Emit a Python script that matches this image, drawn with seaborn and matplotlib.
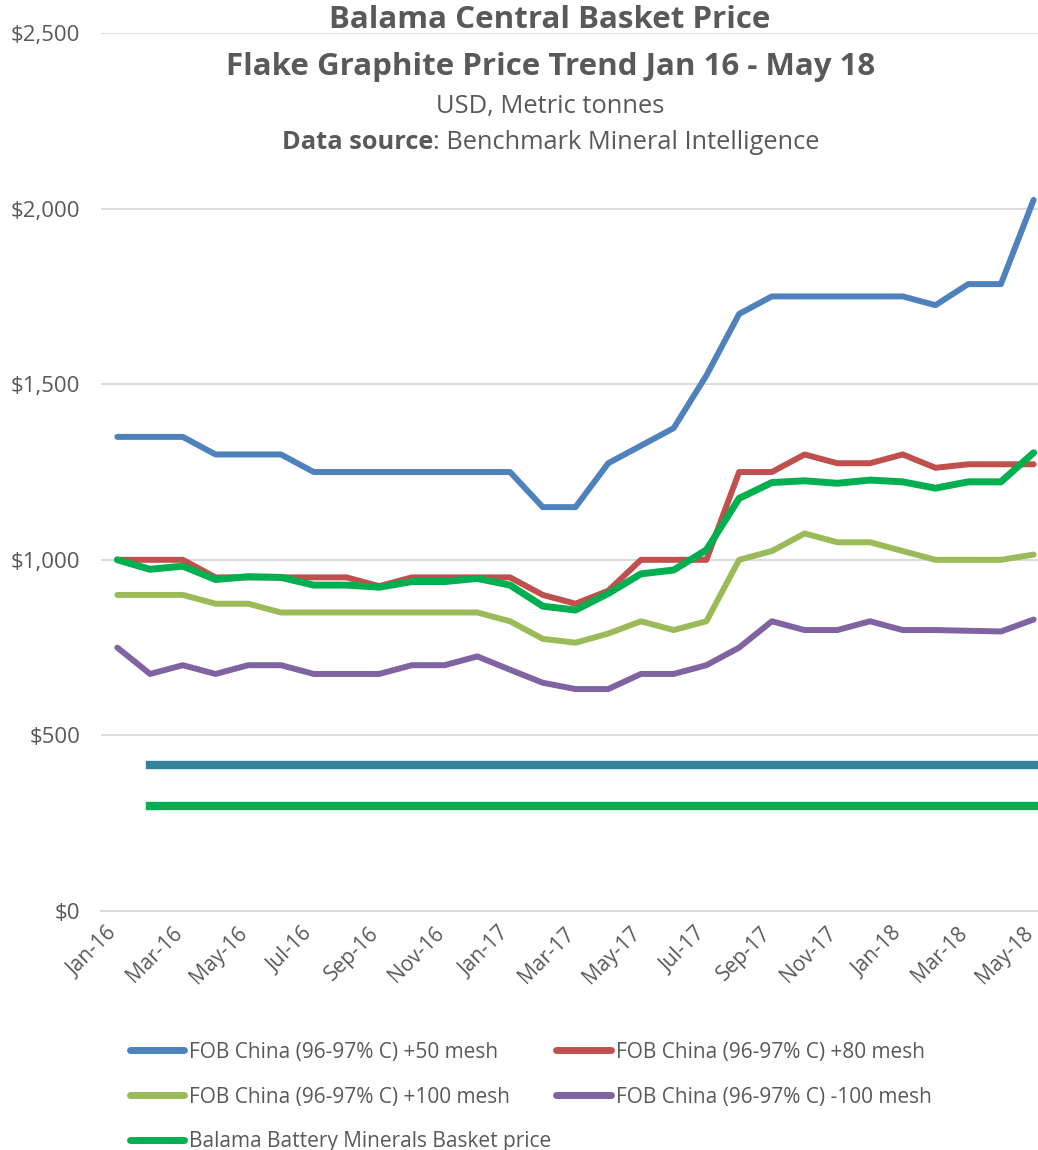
import matplotlib
matplotlib.use("Agg")
import matplotlib.pyplot as plt
import matplotlib.transforms as mtransforms
import seaborn as sns
import pandas as pd
from matplotlib.ticker import FixedLocator, StrMethodFormatter, NullFormatter

# Data
months = ['Jan-16', 'Feb-16', 'Mar-16', 'Apr-16', 'May-16', 'Jun-16', 'Jul-16', 'Aug-16',
          'Sep-16', 'Oct-16', 'Nov-16', 'Dec-16', 'Jan-17', 'Feb-17', 'Mar-17', 'Apr-17',
          'May-17', 'Jun-17', 'Jul-17', 'Aug-17', 'Sep-17', 'Oct-17', 'Nov-17', 'Dec-17',
          'Jan-18', 'Feb-18', 'Mar-18', 'Apr-18', 'May-18']

mesh50 = [1350, 1350, 1350, 1300, 1300, 1300, 1250, 1250, 1250, 1250, 1250, 1250, 1250, 1150, 1150,
          1275, 1325, 1375, 1525, 1700, 1750, 1750, 1750, 1750, 1750, 1725, 1785, 1785, 2025]
mesh80 = [1000, 1000, 1000, 950, 950, 950, 950, 950, 925, 950, 950, 950, 950, 900, 875,
          912, 1000, 1000, 1000, 1250, 1250, 1300, 1275, 1275, 1300, 1262, 1272, 1272, 1272]
mesh100 = [900, 900, 900, 875, 875, 850, 850, 850, 850, 850, 850, 850, 825, 775, 764,
           790, 825, 800, 825, 1000, 1025, 1075, 1050, 1050, 1025, 1000, 1000, 1000, 1015]
minus100 = [750, 675, 700, 675, 700, 700, 675, 675, 675, 700, 700, 725, 687, 650, 632,
            632, 675, 675, 700, 750, 825, 800, 800, 825, 800, 800, 798, 796, 830]
basket = [1000, 973, 982, 944, 952, 950, 928, 928, 922, 938, 938, 947, 928, 868, 857,
          904, 960, 971, 1028, 1175, 1220, 1225, 1218, 1227, 1222, 1204, 1222, 1222, 1305]

# flat reference levels, drawn from Feb-16 onwards
level_teal = 415
level_green = 300

labels = ['FOB China (96-97% C) +50 mesh', 'FOB China (96-97% C) +80 mesh',
          'FOB China (96-97% C) +100 mesh', 'FOB China (96-97% C) -100 mesh',
          'Balama Battery Minerals Basket price']
colors = ['#4F81BD', '#C0504D', '#9BBB59', '#8064A2', '#00B050']

df = pd.DataFrame({'month': months, labels[0]: mesh50, labels[1]: mesh80,
                   labels[2]: mesh100, labels[3]: minus100, labels[4]: basket})
df['idx'] = range(len(df))

sns.set_style("white")
plt.rcParams['font.family'] = ['Open Sans', 'DejaVu Sans']
grey = '#595959'

fig = plt.figure(figsize=(10.38, 11.5), dpi=100)
ax = fig.add_axes([101 / 1038, 0.2078, 949 / 1038, 0.7635])

# flat lines
flat = df[df['idx'] >= 1]
sns.lineplot(x=flat['idx'], y=[level_teal] * len(flat), ax=ax, color='#31849B', lw=6,
             solid_capstyle='projecting', legend=False)
sns.lineplot(x=flat['idx'], y=[level_green] * len(flat), ax=ax, color='#00B050', lw=6,
             solid_capstyle='projecting', legend=False)

handles = []
for lab, col in zip(labels, colors):
    lw = 5 if lab.startswith('Balama') else 4.3
    sns.lineplot(x=df['idx'], y=df[lab], ax=ax, color=col, lw=lw,
                 solid_capstyle='round', legend=False)
    handles.append(ax.lines[-1])

ax.set_xlim(-0.5, len(months) - 0.5)
ax.set_ylim(0, 2500)
ax.set_xlabel('')
ax.set_ylabel('')

ax.yaxis.set_major_locator(FixedLocator(range(0, 2501, 500)))
ax.yaxis.set_major_formatter(StrMethodFormatter('${x:,.0f}'))
ax.grid(axis='y', color='#D9D9D9', lw=1.3)
ax.grid(axis='x', visible=False)
ax.set_axisbelow(True)

ax.xaxis.set_major_locator(FixedLocator(range(0, len(months), 2)))
ax.set_xticklabels(months[::2])
ax.xaxis.set_minor_locator(FixedLocator([i - 0.5 for i in range(0, len(months), 2)]))
ax.xaxis.set_minor_formatter(NullFormatter())
ax.tick_params(axis='x', which='major', length=0, pad=14, labelsize=15, labelcolor=grey)
ax.tick_params(axis='x', which='minor', length=6, width=1.3, color='#D9D9D9', direction='out')
ax.tick_params(axis='y', length=0, pad=15, labelsize=16, labelcolor=grey)
shift = mtransforms.ScaledTranslation(-4 / 100, 0, fig.dpi_scale_trans)
for t in ax.get_xticklabels():
    t.set_rotation(45)
    t.set_ha('right')
    t.set_va('center')
    t.set_rotation_mode('anchor')
    t.set_transform(t.get_transform() + shift)

for s in ['top', 'right', 'left']:
    ax.spines[s].set_visible(False)
ax.spines['bottom'].set_color('#D9D9D9')
ax.spines['bottom'].set_linewidth(1.3)

# titles
fig.text(0.53, 0.9826, 'Balama Central Basket Price', ha='center', va='center',
         fontsize=22.5, fontweight='bold', color=grey)
fig.text(0.53, 0.9417, 'Flake Graphite Price Trend Jan 16 - May 18', ha='center', va='center',
         fontsize=22.5, fontweight='bold', color=grey)
fig.text(0.53, 0.907, 'USD, Metric tonnes', ha='center', va='center', fontsize=18.4, color=grey)
src = fig.text(282 / 1038, 0.8757, 'Data source', ha='left', va='center', fontsize=18.3,
               fontweight='bold', color=grey)
ax.annotate(': Benchmark Mineral Intelligence', xy=(1, 0), xycoords=src,
            ha='left', va='bottom', fontsize=18.3, color=grey)

# legend, row-wise order like the original
order = [0, 2, 4, 1, 3]
leg = fig.legend([handles[i] for i in order], [labels[i] for i in order],
                 loc='upper left', bbox_to_anchor=(111 / 1038, 1 - 1023 / 1150), ncol=2,
                 frameon=False, fontsize=15, handlelength=2.6, handletextpad=0.25,
                 columnspacing=0.24, labelspacing=1.14, labelcolor=grey)
for l in leg.get_lines():
    l.set_linewidth(5)

fig.savefig('out.png', dpi=100)
